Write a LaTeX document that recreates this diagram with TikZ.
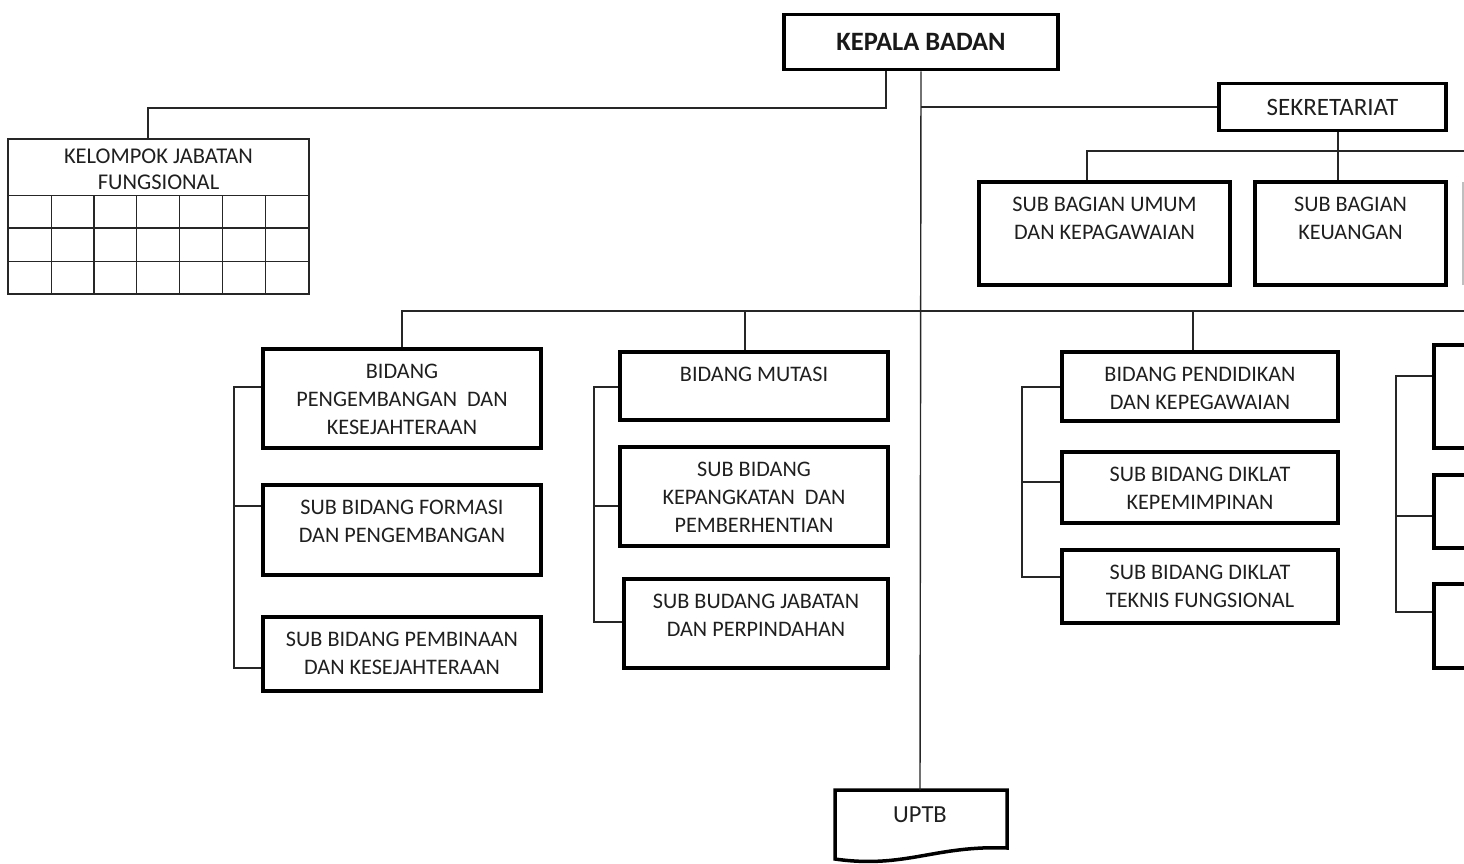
\documentclass[tikz,border=0pt]{standalone}
\usepackage{fontspec}
\setmainfont{Carlito}
\begin{document}
\begin{tikzpicture}[x=1pt,y=-1pt,
  box/.style={draw=black, line width=3.5pt, rectangle, inner sep=0pt},
  txt/.style={anchor=north, align=center, inner sep=0pt, font=\fontsize{22.2}{28}\selectfont, text=black!88},
  toptxt/.style={txt, yshift=-17pt},
  conn/.style={line width=1.4pt, draw=black!85},
  gridline/.style={line width=1.3pt, draw=black!85}]
\useasboundingbox (0,0) rectangle (1464,863);
\clip (0,0) rectangle (1464,863);

% head
\node[box, minimum width=274, minimum height=55, font=\bfseries\fontsize{26.5}{30}\selectfont, text=black!90] (kb) at (921,42) {KEPALA BADAN};
\node[box, minimum width=227, minimum height=47, font=\fontsize{25}{28}\selectfont, text=black!88] (sek) at (1332.5,107) {SEKRETARIAT};
\node[box, minimum width=251, minimum height=103, label={[toptxt]north:{SUB BAGIAN UMUM\\DAN KEPAGAWAIAN}}] (sbu) at (1104.5,233.5) {};
\node[box, minimum width=191, minimum height=103, label={[toptxt]north:{SUB BAGIAN\\KEUANGAN}}] (sbk) at (1350.5,233.5) {};
\draw[line width=1.5pt, black!25] (1463,182) -- (1463,285);

% table
\node[draw, gridline, rectangle, inner sep=0pt, minimum width=301, minimum height=155,
  label={[txt, yshift=-10.5pt, font=\fontsize{22.5}{26}\selectfont]north:{KELOMPOK JABATAN\\FUNGSIONAL}}] (kjf) at (158.5,216.5) {};
\foreach \yy in {195.3,228,261.7} \draw[gridline] (kjf.west |- 0,\yy) -- (kjf.east |- 0,\yy);
\foreach \xx in {51.7,94,136.7,179.3,222.7,265.7} \draw[gridline] (\xx,195.3) -- (kjf.south -| \xx,0);

% column 1
\node[box, minimum width=278, minimum height=99, label={[toptxt]north:{BIDANG\\PENGEMBANGAN\ \ DAN\\KESEJAHTERAAN}}] (b1) at (402,398.5) {};
\node[box, minimum width=278, minimum height=90, label={[toptxt]north:{SUB BIDANG FORMASI\\DAN PENGEMBANGAN}}] (b1s1) at (402,530) {};
\node[box, minimum width=278, minimum height=74, label={[toptxt]north:{SUB BIDANG PEMBINAAN\\DAN KESEJAHTERAAN}}] (b1s2) at (402,654) {};

% column 2
\node[box, minimum width=268, minimum height=68, label={[toptxt]north:{BIDANG MUTASI}}] (b2) at (754,386) {};
\node[box, minimum width=268, minimum height=99, label={[toptxt]north:{SUB BIDANG\\KEPANGKATAN\ \ DAN\\PEMBERHENTIAN}}] (b2s1) at (754,496.5) {};
\node[box, minimum width=264, minimum height=89, label={[toptxt]north:{SUB BUDANG JABATAN\\DAN PERPINDAHAN}}] (b2s2) at (756,623.5) {};

% column 3
\node[box, minimum width=276, minimum height=69, label={[toptxt]north:{BIDANG PENDIDIKAN\\DAN KEPEGAWAIAN}}] (b3) at (1200,386.5) {};
\node[box, minimum width=276, minimum height=71, label={[toptxt]north:{SUB BIDANG DIKLAT\\KEPEMIMPINAN}}] (b3s1) at (1200,487.5) {};
\node[box, minimum width=276, minimum height=73, label={[toptxt]north:{SUB BIDANG DIKLAT\\TEKNIS FUNGSIONAL}}] (b3s2) at (1200,586.5) {};

% column 4 (cut off at the right edge)
\node[box, minimum width=80, minimum height=103, anchor=north west] (b4) at (1432,343) {};
\node[box, minimum width=80, minimum height=73, anchor=north west] (b4s1) at (1432,473) {};
\node[box, minimum width=80, minimum height=84, anchor=north west] (b4s2) at (1432,582) {};

% UPTB
\node[inner sep=0pt, minimum width=172, minimum height=50, font=\fontsize{24.5}{28}\selectfont, text=black!88] (uptb) at (920,815) {UPTB};
\draw[line width=3.5pt, line join=miter] (835,859) -- (835,790) -- (1007,790) -- (1007,848)
  .. controls (935,845) and (905,869) .. (835,859) -- cycle;

% connectors
\coordinate (kbL) at ([xshift=-35pt]kb.south);
\coordinate (kjfin) at ([xshift=-10.5pt]kjf.north);
\draw[conn] (kbL) |- (kjfin |- 0,108) -- (kjfin);
\draw[conn] (kb.south) -- (uptb.north);
\draw[conn] (kb.south |- sek.west) -- (sek.west);

\coordinate (sekd) at ([xshift=5.5pt]sek.south);
\coordinate (sbuin) at ([xshift=-17.5pt]sbu.north);
\draw[conn] (sekd) -- (sekd |- sbk.north);
\draw[conn] (sbuin) -- (sbuin |- 0,151) -- (1470,151);

\draw[conn] (b1.north) -- (b1.north |- 0,311) -- (1470,311);
\coordinate (b2in) at ([xshift=-9pt]b2.north);
\coordinate (b3in) at ([xshift=-7pt]b3.north);
\draw[conn] (b2in) -- (b2in |- 0,311);
\draw[conn] (b3in) -- (b3in |- 0,311);

% brackets
\draw[conn] (b1.west |- 0,387) -- (234,387) -- (234,668) -- (b1s2.west |- 0,668);
\draw[conn] (234,506) -- (b1s1.west |- 0,506);
\draw[conn] (b2.west |- 0,387) -- (594,387) -- (594,622) -- (b2s2.west |- 0,622);
\draw[conn] (594,506) -- (b2s1.west |- 0,506);
\draw[conn] (b3.west |- 0,387) -- (1022,387) -- (1022,577) -- (b3s2.west |- 0,577);
\draw[conn] (1022,482) -- (b3s1.west |- 0,482);
\draw[conn] (b4.west |- 0,376) -- (1396,376) -- (1396,612) -- (b4s2.west |- 0,612);
\draw[conn] (1396,516) -- (b4s1.west |- 0,516);
\end{tikzpicture}
\end{document}
